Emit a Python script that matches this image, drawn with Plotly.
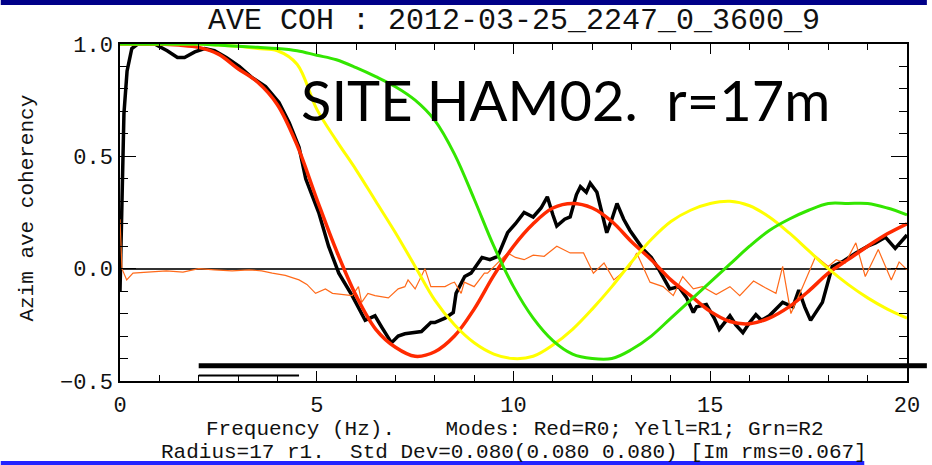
import plotly.graph_objects as go

# model dispersion curves (theoretical coherency), read every 0.5 Hz
model_freq = [0.0, 0.5, 1.0, 1.5, 2.0, 2.5, 3.0, 3.5, 4.0, 4.5, 5.0, 5.5, 6.0, 6.5, 7.0,
              7.5, 8.0, 8.5, 9.0, 9.5, 10.0, 10.5, 11.0, 11.5, 12.0, 12.5, 13.0, 13.5,
              14.0, 14.5, 15.0, 15.5, 16.0, 16.5, 17.0, 17.5, 18.0, 18.5, 19.0, 19.5, 20.0]
red_r0 = [1.0, 1.0, 1.0, 0.995, 0.985, 0.955, 0.89, 0.83, 0.73, 0.55, 0.31, 0.08, -0.12,
          -0.27, -0.35, -0.39, -0.37, -0.30, -0.18, -0.03, 0.10, 0.20, 0.27, 0.29, 0.27,
          0.21, 0.12, 0.04, -0.05, -0.12, -0.19, -0.235, -0.245, -0.22, -0.17, -0.10,
          -0.02, 0.04, 0.10, 0.155, 0.20]
yell_r1 = [1.0, 1.0, 1.0, 1.0, 1.0, 0.995, 0.99, 0.98, 0.97, 0.91, 0.71, 0.57, 0.44, 0.30,
           0.16, 0.01, -0.14, -0.25, -0.33, -0.38, -0.40, -0.39, -0.34, -0.27, -0.18,
           -0.08, 0.03, 0.13, 0.21, 0.26, 0.29, 0.30, 0.28, 0.23, 0.16, 0.08, 0.0, -0.07,
           -0.13, -0.18, -0.22]
grn_r2 = [1.0, 1.0, 1.0, 1.0, 1.0, 0.995, 0.99, 0.985, 0.98, 0.97, 0.95, 0.93, 0.895,
          0.855, 0.81, 0.75, 0.66, 0.51, 0.31, 0.10, -0.08, -0.22, -0.32, -0.38, -0.40,
          -0.40, -0.36, -0.30, -0.22, -0.14, -0.06, 0.02, 0.10, 0.17, 0.22, 0.26, 0.29,
          0.29, 0.29, 0.27, 0.24]

# observed azimuthal average coherency (real part)
obs_freq = [0.0, 0.05, 0.1, 0.18, 0.3, 0.45, 0.88, 1.2, 1.46, 1.64, 1.9, 2.15, 2.4, 2.7,
            3.03, 3.36, 3.7, 4.04, 4.3, 4.55, 4.72, 5.05, 5.3, 5.56, 5.9, 6.23, 6.48, 6.65,
            6.9, 7.07, 7.24, 7.66, 7.9, 8.0, 8.26, 8.47, 8.54, 8.76, 8.92, 9.0, 9.2, 9.4,
            9.6, 9.85, 10.05, 10.27, 10.5, 10.7, 10.86, 11.0, 11.1, 11.3, 11.44, 11.6, 11.7,
            11.85, 11.95, 12.12, 12.25, 12.37, 12.5, 12.63, 12.8, 12.96, 13.3, 13.5, 13.7,
            13.97, 14.2, 14.4, 14.57, 14.65, 14.9, 15.1, 15.23, 15.5, 15.65, 15.83, 16.0,
            16.16, 16.3, 16.5, 16.84, 17.1, 17.25, 17.4, 17.55, 17.85, 18.1, 18.35, 18.7,
            19.0, 19.2, 19.45, 19.7, 19.95, 20.0]
obs_real = [-0.10, 0.30, 0.69, 0.88, 0.98, 1.0, 1.0, 0.97, 0.94, 0.94, 0.965, 0.98, 0.97,
            0.94, 0.90, 0.85, 0.81, 0.74, 0.65, 0.54, 0.40, 0.25, 0.10, -0.02, -0.12, -0.23,
            -0.21, -0.26, -0.33, -0.30, -0.29, -0.28, -0.24, -0.24, -0.22, -0.195, -0.11,
            -0.035, -0.02, 0.0, 0.05, 0.04, 0.055, 0.16, 0.20, 0.25, 0.23, 0.27, 0.32, 0.24,
            0.19, 0.22, 0.23, 0.33, 0.365, 0.34, 0.38, 0.34, 0.25, 0.16, 0.22, 0.29, 0.22,
            0.17, 0.085, 0.05, -0.005, -0.09, -0.08, -0.13, -0.195, -0.17, -0.16, -0.22,
            -0.27, -0.21, -0.25, -0.285, -0.24, -0.205, -0.23, -0.21, -0.15, -0.17, -0.095,
            -0.17, -0.23, -0.15, 0.01, 0.03, 0.07, 0.10, 0.115, 0.14, 0.09, 0.14, 0.15]

# imaginary part
imag_freq = [0.0, 0.05, 0.17, 0.33, 0.7, 1.18, 1.6, 2.0, 2.4, 2.85, 3.28, 3.6, 3.87, 4.2,
             4.55, 4.75, 4.97, 5.22, 5.4, 5.72, 5.9, 6.06, 6.14, 6.3, 6.48, 6.82, 7.07,
             7.24, 7.32, 7.5, 7.58, 7.75, 7.9, 8.08, 8.26, 8.42, 8.5, 8.67, 8.75, 9.0, 9.26,
             9.34, 9.6, 9.85, 10.05, 10.27, 10.5, 10.78, 11.1, 11.44, 11.78, 12.03, 12.3,
             12.55, 12.96, 13.13, 13.47, 13.8, 14.06, 14.3, 14.57, 14.8, 15.15, 15.5, 15.75,
             16.1, 16.4, 16.67, 16.84, 17.05, 17.35, 17.68, 18.0, 18.2, 18.43, 18.7, 18.94,
             19.27, 19.6, 19.8, 20.0]
imag_val = [0.22, 0.0, -0.05, -0.02, -0.015, -0.01, -0.015, 0.0, -0.005, -0.01, -0.005,
            -0.01, -0.02, -0.03, -0.05, -0.07, -0.11, -0.09, -0.11, -0.115, -0.12, -0.08,
            -0.15, -0.11, -0.12, -0.13, -0.09, -0.08, -0.05, -0.09, -0.06, 0.0, -0.08, -0.08,
            -0.08, -0.065, -0.06, -0.11, -0.06, -0.08, -0.02, -0.02, 0.025, 0.07, 0.05, 0.04,
            0.06, 0.055, 0.10, 0.07, 0.07, -0.02, 0.025, -0.05, 0.01, 0.07, -0.06, -0.08,
            -0.12, -0.035, -0.09, -0.08, -0.115, -0.08, -0.12, -0.055, -0.085, -0.11, 0.01,
            -0.20, -0.08, 0.055, 0.01, 0.04, 0.025, 0.115, -0.035, 0.085, -0.05, 0.03, -0.005]

# fitting band markers
band_freq = [2.0, 20.0]
band_level = -0.432
band2_freq = [2.0, 4.55]
band2_level = -0.476

W, H = 932, 465
L, R, T, B = 120, 20, 44, 84


def px_x(p):
    return (p - L) / (W - L - R)


def px_y(p):
    return (H - B - p) / (H - T - B)


fig = go.Figure()
fig.add_trace(go.Scatter(x=band_freq, y=[band_level] * 2, mode='lines',
                         line=dict(color='black', width=5), hoverinfo='none'))
fig.add_trace(go.Scatter(x=band2_freq, y=[band2_level] * 2, mode='lines',
                         line=dict(color='black', width=2), hoverinfo='none'))
fig.add_trace(go.Scatter(x=obs_freq, y=obs_real, mode='lines',
                         line=dict(color='black', width=3.5)))
fig.add_trace(go.Scatter(x=imag_freq, y=imag_val, mode='lines',
                         line=dict(color='#ff6a1a', width=1.2)))
fig.add_trace(go.Scatter(x=model_freq, y=red_r0, mode='lines', line_shape='spline',
                         line=dict(color='#ff2a00', width=3.5)))
fig.add_trace(go.Scatter(x=model_freq, y=yell_r1, mode='lines', line_shape='spline',
                         line=dict(color='#ffff00', width=3)))
fig.add_trace(go.Scatter(x=model_freq, y=grn_r2, mode='lines', line_shape='spline',
                         line=dict(color='#33e600', width=3)))

txt = dict(family='Liberation Mono', color='#111111', size=21)

fig.update_layout(
    width=W, height=H, showlegend=False,
    margin=dict(l=L, r=R, t=T, b=B),
    paper_bgcolor='white', plot_bgcolor='white',
    font=dict(family='Liberation Mono', color='#111111', size=22),
    xaxis=dict(range=[0, 20], tickvals=[0, 5, 10, 15, 20], ticks='inside', ticklen=10,
               tickcolor='black', showline=True, linecolor='black', linewidth=1.5,
               mirror='ticks', showgrid=False, zeroline=False, ticklabelstandoff=3,
               minor=dict(dtick=1, ticks='inside', ticklen=6, tickcolor='black')),
    yaxis=dict(range=[-0.5, 1.0], tickvals=[-0.5, 0, 0.5, 1.0], tickformat='.1f',
               ticks='inside', ticklen=16, tickcolor='black', showline=True,
               linecolor='black', linewidth=1.5, mirror='ticks', showgrid=False,
               zeroline=True, zerolinecolor='#333333', zerolinewidth=1.5,
               ticklabelstandoff=1,
               minor=dict(dtick=0.1, ticks='inside', ticklen=8, tickcolor='black')),
)

# thick band line continues to the right edge of the picture
fig.add_shape(type='line', xref='paper', yref='y', x0=1.0, x1=px_x(W), y0=band_level,
              y1=band_level, line=dict(color='black', width=5))
# slide bars
fig.add_shape(type='rect', xref='paper', yref='paper', x0=px_x(0), x1=px_x(W),
              y0=px_y(5), y1=px_y(0), fillcolor='#000088', line_width=0, layer='above')
fig.add_shape(type='rect', xref='paper', yref='paper', x0=px_x(0), x1=px_x(869),
              y0=px_y(465), y1=px_y(461), fillcolor='#2323ff', line_width=0, layer='above')

fig.add_annotation(text='AVE COH : 2012-03-25_2247_0_3600_9', xref='paper', yref='paper',
                   x=0.5, y=px_y(21), showarrow=False, xanchor='center', yanchor='middle',
                   font=dict(family='Liberation Mono', size=30, color='#111111'))
fig.add_annotation(text='Frequency (Hz).\u00a0\u00a0\u00a0 Modes: Red=R0; Yell=R1; Grn=R2',
                   xref='paper', yref='paper', x=px_x(518), y=px_y(429), showarrow=False,
                   xanchor='center', yanchor='middle', font=txt)
fig.add_annotation(text='Radius=17 r1.\u00a0 Std Dev=0.080(0.080 0.080) [Im rms=0.067]',
                   xref='paper', yref='paper', x=px_x(517), y=px_y(452), showarrow=False,
                   xanchor='center', yanchor='middle', font=txt)
fig.add_annotation(text='Azim ave coherency', xref='paper', yref='paper', x=px_x(26),
                   y=px_y(208), showarrow=False, textangle=-90, xanchor='center',
                   yanchor='middle', font=dict(family='Liberation Mono', size=21, color='#111111'))
fig.add_annotation(text='SITE HAM02.\u00a0 r=17m', xref='paper', yref='paper', x=px_x(300),
                   y=px_y(100), showarrow=False, xanchor='left', yanchor='middle',
                   font=dict(family='Lato', size=56, color='black'))

fig.write_html("out.html", config={'displayModeBar': False},
               post_script="document.body.style.margin='0';document.body.style.padding='0';")
